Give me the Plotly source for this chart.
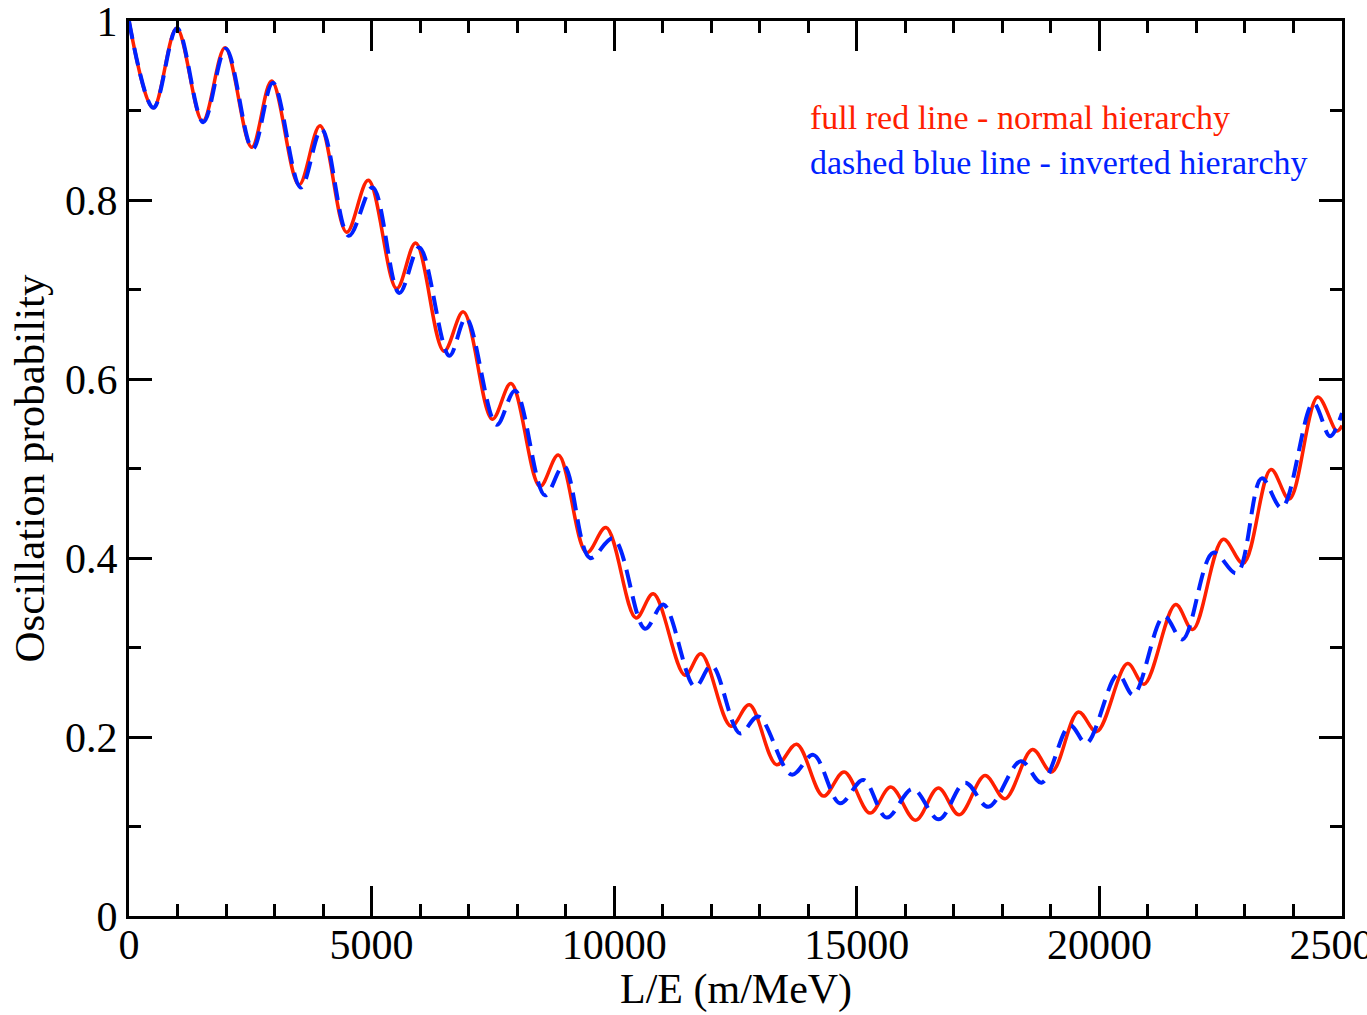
import plotly.graph_objects as go

# Red (normal hierarchy): extrema (L/E in m/MeV, probability)
nh_x = [0, 500, 982, 1518, 1979, 2528, 2940, 3504, 3937, 4486, 4933, 5517, 5908, 6492,
        6890, 7488, 7873, 8471, 8849, 9433, 9831, 10449, 10806, 11459, 11789, 12407,
        12785, 13348, 13760, 14310, 14740, 15272, 15700, 16210, 16680, 17110, 17642,
        18054, 18620, 19016, 19566, 19944, 20580, 20920, 21572, 21922, 22553, 22965,
        23536, 23914, 24500, 24895, 25000]
nh_y = [1.0, 0.903, 0.992, 0.888, 0.970, 0.859, 0.933, 0.817, 0.883, 0.764, 0.822, 0.701,
        0.752, 0.631, 0.675, 0.555, 0.595, 0.480, 0.515, 0.406, 0.434, 0.333, 0.360,
        0.269, 0.293, 0.212, 0.236, 0.169, 0.192, 0.134, 0.161, 0.115, 0.144, 0.107,
        0.143, 0.113, 0.157, 0.131, 0.186, 0.161, 0.228, 0.206, 0.282, 0.259, 0.348,
        0.320, 0.421, 0.394, 0.499, 0.466, 0.580, 0.542, 0.548]

# Blue dashed (inverted hierarchy)
ih_x = [0, 505, 990, 1530, 1995, 2550, 2965, 3540, 3970, 4530, 5020, 5571, 5983, 6602,
        6946, 7577, 7956, 8574, 8960, 9502, 9980, 10635, 11012, 11665, 12009, 12593,
        12970, 13657, 14104, 14654, 15134, 15616, 16150, 16690, 17230, 17711, 18380,
        18810, 19395, 19731, 20380, 20700, 21333, 21711, 22347, 22829, 23345, 23757,
        24409, 24753, 25000]
ih_y = [1.0, 0.903, 0.992, 0.887, 0.969, 0.857, 0.931, 0.814, 0.879, 0.760, 0.814, 0.696,
        0.747, 0.626, 0.668, 0.549, 0.587, 0.470, 0.503, 0.400, 0.422, 0.321, 0.348,
        0.256, 0.280, 0.204, 0.223, 0.158, 0.180, 0.126, 0.152, 0.110, 0.142, 0.108,
        0.149, 0.122, 0.173, 0.149, 0.213, 0.193, 0.270, 0.247, 0.335, 0.309, 0.406,
        0.383, 0.489, 0.456, 0.573, 0.536, 0.562]

x_ticks = [0, 5000, 10000, 15000, 20000, 25000]
y_ticks = [0, 0.2, 0.4, 0.6, 0.8, 1]

RED = "#ff2000"
BLUE = "#0022ff"
FONT = "Liberation Serif"

fig = go.Figure()
fig.add_trace(go.Scatter(x=nh_x, y=nh_y, mode="lines",
                         line=dict(color=RED, width=3.5, shape="spline", smoothing=1.0),
                         showlegend=False, hoverinfo="skip"))
fig.add_trace(go.Scatter(x=ih_x, y=ih_y, mode="lines",
                         line=dict(color=BLUE, width=4, dash="18px,9px", shape="spline", smoothing=1.0),
                         showlegend=False, hoverinfo="skip"))

W, H = 1367, 1015
L, R, T, B = 129, 25, 21, 99
pw, ph = W - L - R, H - T - B


def px(xp, yp):
    return (xp - L) / pw, 1 - (yp - T) / ph


ax, ay = px(808, 117)
fig.add_annotation(x=ax, y=ay, xref="paper", yref="paper", text="full red line - normal hierarchy",
                   showarrow=False, font=dict(family=FONT, size=34, color=RED),
                   xanchor="left", yanchor="middle")
ax, ay = px(808, 162)
fig.add_annotation(x=ax, y=ay, xref="paper", yref="paper", text="dashed blue line - inverted hierarchy",
                   showarrow=False, font=dict(family=FONT, size=34, color=BLUE),
                   xanchor="left", yanchor="middle")

# x-axis title placed by pixel position
tx, ty = px(736, 989)
fig.add_annotation(x=tx, y=ty, xref="paper", yref="paper", text="L/E (m/MeV)",
                   showarrow=False, font=dict(family=FONT, size=42, color="black"),
                   xanchor="center", yanchor="middle")

fig.update_layout(
    width=W, height=H,
    margin=dict(l=L, r=R, t=T, b=B, pad=0, autoexpand=False),
    plot_bgcolor="white", paper_bgcolor="white",
    font=dict(family=FONT, size=42, color="black"),
)
fig.update_xaxes(
    range=[0, 25000], tickvals=x_ticks, ticktext=[str(v) for v in x_ticks],
    showgrid=False, zeroline=False, automargin=False, ticklabeloverflow="allow",
    ticklabelstandoff=-10,
    showline=True, linecolor="black", linewidth=3, mirror="allticks",
    ticks="inside", ticklen=30, tickwidth=3, tickcolor="black",
    minor=dict(ticks="inside", dtick=1000, tick0=0, ticklen=12, tickwidth=3, tickcolor="black", showgrid=False),
    tickfont=dict(family=FONT, size=42),
)
fig.update_yaxes(
    range=[0, 1], tickvals=y_ticks, ticktext=["0", "0.2", "0.4", "0.6", "0.8", "1"],
    showgrid=False, zeroline=False, automargin=False, ticklabeloverflow="allow",
    showline=True, linecolor="black", linewidth=3, mirror="allticks",
    ticks="inside", ticklen=23, tickwidth=3, tickcolor="black",
    minor=dict(ticks="inside", dtick=0.1, tick0=0, ticklen=12, tickwidth=3, tickcolor="black", showgrid=False),
    tickfont=dict(family=FONT, size=42),
    title=dict(text="Oscillation probability", font=dict(family=FONT, size=43), standoff=8),
)

fig.write_html("out.html")
